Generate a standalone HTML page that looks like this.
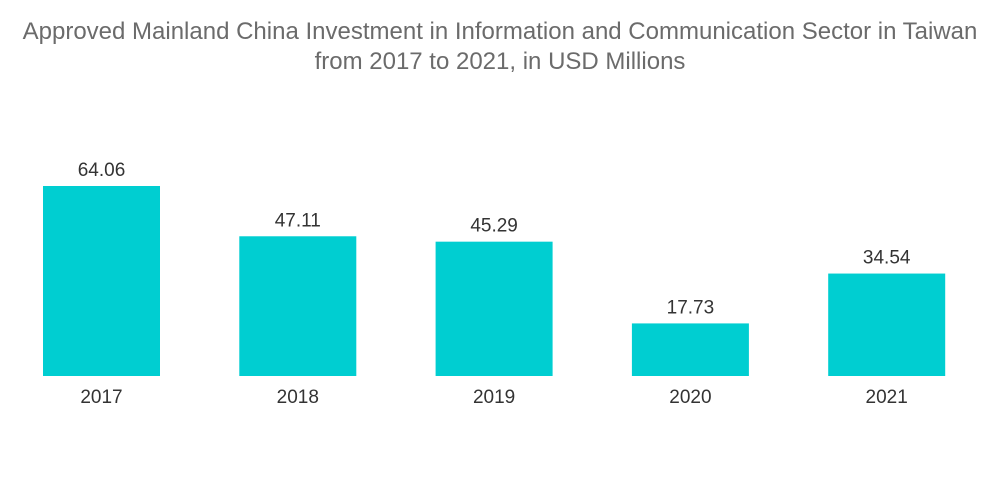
<!DOCTYPE html>
<html><head><meta charset="utf-8"><style>
body{margin:0;background:#fff;width:1000px;height:504px;overflow:hidden;font-family:"Liberation Sans",sans-serif}
#title{position:absolute;left:0;top:17px;width:1000px;text-align:center;color:#6b6b6b;font-size:24px;line-height:30px;white-space:nowrap}
</style></head><body>
<div id="title">Approved Mainland China Investment in Information and Communication Sector in Taiwan<br>from 2017 to 2021, in USD Millions</div>
<svg id="chart" width="1000" height="504" style="position:absolute;left:0;top:0"></svg>
<script>
const categories=["2017","2018","2019","2020","2021"];
const values=[64.06,47.11,45.29,17.73,34.54];
const valueLabels=["64.06","47.11","45.29","17.73","34.54"];
const svg=document.getElementById('chart');
const NS='http://www.w3.org/2000/svg';
const baseY=376, pxPerUnit=190/64.06, x0=43, pitch=196.3, bw=117;
function yScale(v){return baseY-v*pxPerUnit;}
function xScale(i){return x0+i*pitch;}
categories.forEach((c,i)=>{
  const x=xScale(i), y=yScale(values[i]);
  const r=document.createElementNS(NS,'rect');
  r.setAttribute('x',x);r.setAttribute('y',y);r.setAttribute('width',bw);r.setAttribute('height',baseY-y);r.setAttribute('fill','#00CED1');
  
  
  svg.appendChild(r);
  const t=document.createElementNS(NS,'text');
  t.setAttribute('x',x+bw/2);t.setAttribute('y',y-10);t.setAttribute('text-anchor','middle');t.setAttribute('font-size','19');t.setAttribute('fill','#333');t.setAttribute('font-family','Liberation Sans, sans-serif');
  t.textContent=valueLabels[i];
  
  
  svg.appendChild(t);
  const l=document.createElementNS(NS,'text');
  l.setAttribute('x',x+bw/2);l.setAttribute('y',403);l.setAttribute('text-anchor','middle');l.setAttribute('font-size','19');l.setAttribute('fill','#333');l.setAttribute('font-family','Liberation Sans, sans-serif');
  l.textContent=c;
  
  
  svg.appendChild(l);
});
</script>
</body></html>
